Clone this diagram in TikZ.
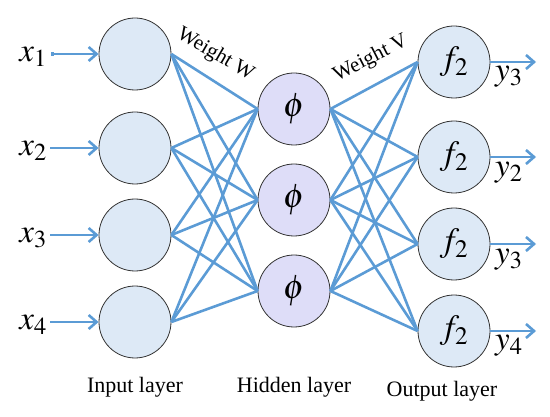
\documentclass[tikz,border=0pt]{standalone}
\usepackage{mathptmx}
\usepackage[no-math]{fontspec}
\setmainfont{Liberation Serif}
\usetikzlibrary{arrows.meta}

\definecolor{linkblue}{HTML}{5B9BD5}
\definecolor{inputfill}{HTML}{DDE9F6}
\definecolor{hiddenfill}{HTML}{DEDDF8}

\begin{document}
\begin{tikzpicture}[x=1pt, y=-1pt]
    \tikzset{neuron/.style={circle, draw=black!80, line width=0.8pt, minimum size=72pt, inner sep=0pt, font=\fontsize{34}{34}\selectfont},
             link/.style={draw=linkblue, line width=2.6pt},
             signal/.style={link, -{Straight Barb[length=8pt, width=14pt]}},
             mathlabel/.style={inner sep=0pt, font=\fontsize{33}{33}\selectfont},
             layername/.style={anchor=base, inner sep=0pt, font=\fontsize{22}{22}\selectfont},
             weightname/.style={anchor=base, inner sep=0pt, font=\fontsize{21}{21}\selectfont}}
    \useasboundingbox (0,0) rectangle (550,417);

    % input layer
    \node[neuron, fill=inputfill] (in1) at (135,54) {};
    \node[neuron, fill=inputfill] (in2) at (135,148) {};
    \node[neuron, fill=inputfill] (in3) at (135,235) {};
    \node[neuron, fill=inputfill] (in4) at (135,322) {};

    % hidden layer
    \node[neuron, fill=hiddenfill] (hid1) at (294,109) {$\phi$};
    \node[neuron, fill=hiddenfill] (hid2) at (294,200) {$\phi$};
    \node[neuron, fill=hiddenfill] (hid3) at (294,291) {$\phi$};

    % output layer
    \node[neuron, fill=inputfill] (out1) at (454,62) {$f_2$};
    \node[neuron, fill=inputfill] (out2) at (454,157) {$f_2$};
    \node[neuron, fill=inputfill] (out3) at (454,244) {$f_2$};
    \node[neuron, fill=inputfill] (out4) at (454,331) {$f_2$};

    % weights
    \foreach \i in {1,...,4}
        \foreach \j in {1,2,3}
            \draw[link] (in\i.east) -- (hid\j.west);
    \foreach \j in {1,2,3}
        \foreach \k in {1,...,4}
            \draw[link] (hid\j.east) -- (out\k.west);

    % inputs
    \node[mathlabel, anchor=base east] (x1) at (47,62) {$x_1$};
    \node[mathlabel, anchor=base east] (x2) at (47,156) {$x_2$};
    \node[mathlabel, anchor=base east] (x3) at (47,243) {$x_3$};
    \node[mathlabel, anchor=base east] (x4) at (47,330) {$x_4$};
    \coordinate (s1) at (51,54);
    \coordinate (s2) at (50,148);
    \coordinate (s3) at (50,235);
    \coordinate (s4) at (50,322);
    \draw[signal, {Square[length=3pt, width=4pt]}-{Straight Barb[length=8pt, width=14pt]}] (s1) -- (in1);
    \foreach \i in {2,3,4}
        \draw[signal] (s\i) -- (in\i);

    % outputs
    \coordinate (e1) at (536,62);
    \coordinate (e2) at (536,157);
    \coordinate (e3) at (536,244);
    \coordinate (e4) at (536,331);
    \foreach \k in {1,...,4}
        \draw[signal] (out\k) -- (e\k);
    \node[mathlabel, anchor=base west] (y1) at (495,81) {$y_3$};
    \node[mathlabel, anchor=base west] (y2) at (495,177) {$y_2$};
    \node[mathlabel, anchor=base west] (y3) at (495,264) {$y_3$};
    \node[mathlabel, anchor=base west] (y4) at (495,350) {$y_4$};

    % captions
    \node[weightname, rotate=-30] (wW) at (213,59) {Weight W};
    \node[weightname, rotate=27] (wV) at (373,63) {Weight V};
    \node[layername] (lin) at (135,393) {Input layer};
    \node[layername] (lhid) at (294,393) {Hidden layer};
    \node[layername] (lout) at (442,396) {Output layer};
\end{tikzpicture}
\end{document}
